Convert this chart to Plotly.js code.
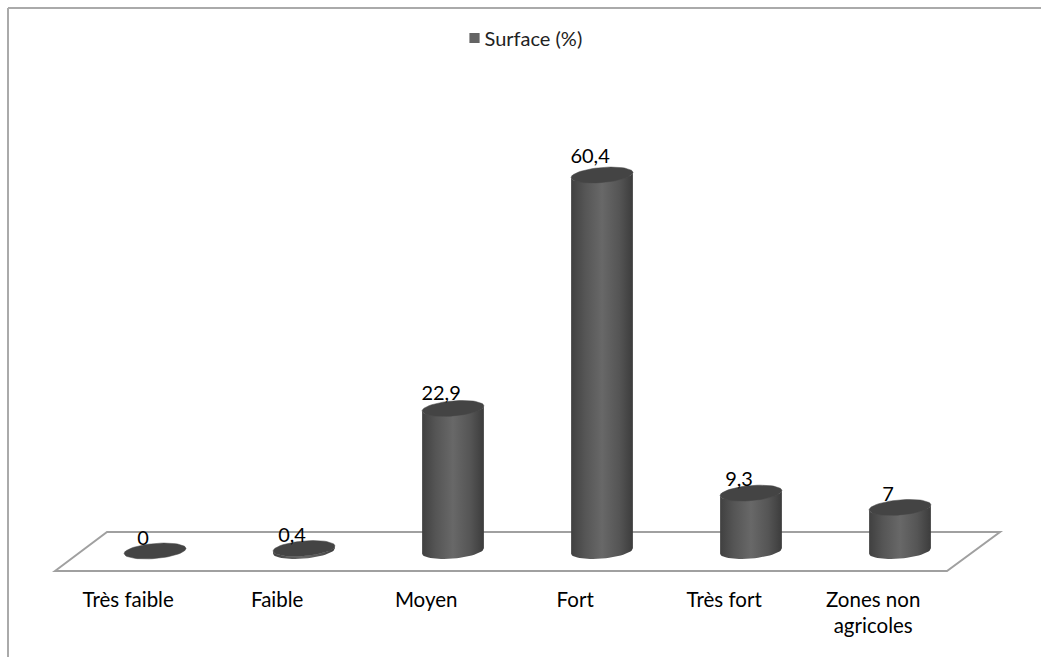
<!DOCTYPE html>
<html><head><meta charset="utf-8">
<script src="https://cdn.plot.ly/plotly-3.0.1.min.js"></script>
<style>html,body{margin:0;padding:0;background:#fff}#c{width:1041px;height:657px}</style></head>
<body><div id="c"></div>
<script>
const categories = ['Très faible','Faible','Moyen','Fort','Très fort','Zones non<br>agricoles'];
const values = [0,0.4,22.9,60.4,9.3,7];
const seriesName = 'Surface (%)';

// Plot-area calibration: one category = 149 px, one percent = 6.225 px
const W=1041,H=657, pxX=149, pxY=6.225;
const L=0, R=1041, T=0, B=585;
const x0px=155, y0px=551;
const xRange=[(L-x0px)/pxX,(R-x0px)/pxX];
const yRange=[(y0px-B)/pxY,(y0px-T)/pxY];
const ryPx=7.5, tilt=-5*Math.PI/180;

function ellipsePt(cx,cy,t){
  const dx=31*Math.cos(t), dy=ryPx*Math.sin(t);
  const X=dx*Math.cos(tilt)-dy*Math.sin(tilt);
  const Y=dx*Math.sin(tilt)+dy*Math.cos(tilt);
  return [cx+X/pxX, cy-Y/pxY];
}
function arc(cx,cy,a,b,n){const o=[];for(let i=0;i<=n;i++){o.push(ellipsePt(cx,cy,a+(b-a)*i/n));}return o;}

const traces=[{
  type:'bar',x:categories.map((c,i)=>i),y:values,name:seriesName,width:0.37,
  marker:{color:'#646464'},showlegend:true,hoverinfo:'y'
}];
const grad={type:'horizontal',colorscale:[[0,'#404040'],[0.22,'#555555'],[0.5,'#686868'],[0.78,'#555555'],[1,'#3c3c3c']]};
values.forEach((v,i)=>{
  if(v>0){
    const pts=arc(i,0,Math.PI,0,30).concat(arc(i,v,0,Math.PI,30));
    traces.push({type:'scatter',mode:'lines',x:pts.map(p=>p[0]),y:pts.map(p=>p[1]),fill:'toself',
      line:{width:0,color:'#444'},fillcolor:'#555',fillgradient:grad,showlegend:false,hoverinfo:'skip'});
  }
  const top=arc(i,v,0,2*Math.PI,60);
  traces.push({type:'scatter',mode:'lines',x:top.map(p=>p[0]),y:top.map(p=>p[1]),fill:'toself',
    line:{width:0.5,color:'#444444'},fillcolor:'#444444',showlegend:false,hoverinfo:'skip'});
});
traces.push({type:'scatter',mode:'text',x:values.map((v,i)=>i-0.08),y:values.map(v=>v*1.016+1.8),
  text:values.map(v=>String(v).replace('.',',')),textposition:'middle center',
  textfont:{family:'Lato, sans-serif',size:20,color:'#000'},showlegend:false,hoverinfo:'skip'});

const fx=p=>(p-x0px)/pxX, fy=p=>(y0px-p)/pxY;
const floorPath='M'+fx(55)+','+fy(571)+'L'+fx(107)+','+fy(532)+'L'+fx(1000)+','+fy(532)+'L'+fx(947)+','+fy(571)+'Z';
const PH=B-T;
const layout={
  width:W,height:H,margin:{l:0,r:0,t:0,b:H-B},paper_bgcolor:'#fff',plot_bgcolor:'#fff',
  font:{family:'Lato, sans-serif',color:'#000',size:17},showlegend:true,
  legend:{x:0.427,y:1-38/PH,xanchor:'left',yanchor:'middle',orientation:'h',bgcolor:'rgba(0,0,0,0)',font:{size:20,color:'#222'}},
  xaxis:{range:xRange,tickmode:'array',tickvals:categories.map((c,i)=>i-0.18),ticktext:categories,
    showgrid:false,zeroline:false,showline:false,ticks:'',fixedrange:true,automargin:false,
    tickfont:{size:20.5,color:'#000'}},
  yaxis:{range:yRange,showgrid:false,zeroline:false,showline:false,showticklabels:false,ticks:'',fixedrange:true},
  shapes:[
    {type:'path',path:floorPath,xref:'x',yref:'y',layer:'below',line:{color:'#a0a0a0',width:2},fillcolor:'#fff'},
    {type:'line',xref:'paper',yref:'paper',x0:8/W,x1:1,y0:1-8/PH,y1:1-8/PH,line:{color:'#aaaaaa',width:2}},
    {type:'line',xref:'paper',yref:'paper',x0:8/W,x1:8/W,y0:1-8/PH,y1:(B-H)/PH,line:{color:'#aaaaaa',width:2}}
  ]
};
Plotly.newPlot('c',traces,layout,{displayModeBar:false,staticPlot:true}).then(()=>{
  // the reference key has its square right next to the text
  document.querySelectorAll('.legendsymbols').forEach(g=>g.setAttribute('transform','translate(13,0) scale(0.85)'));
});
</script></body></html>
